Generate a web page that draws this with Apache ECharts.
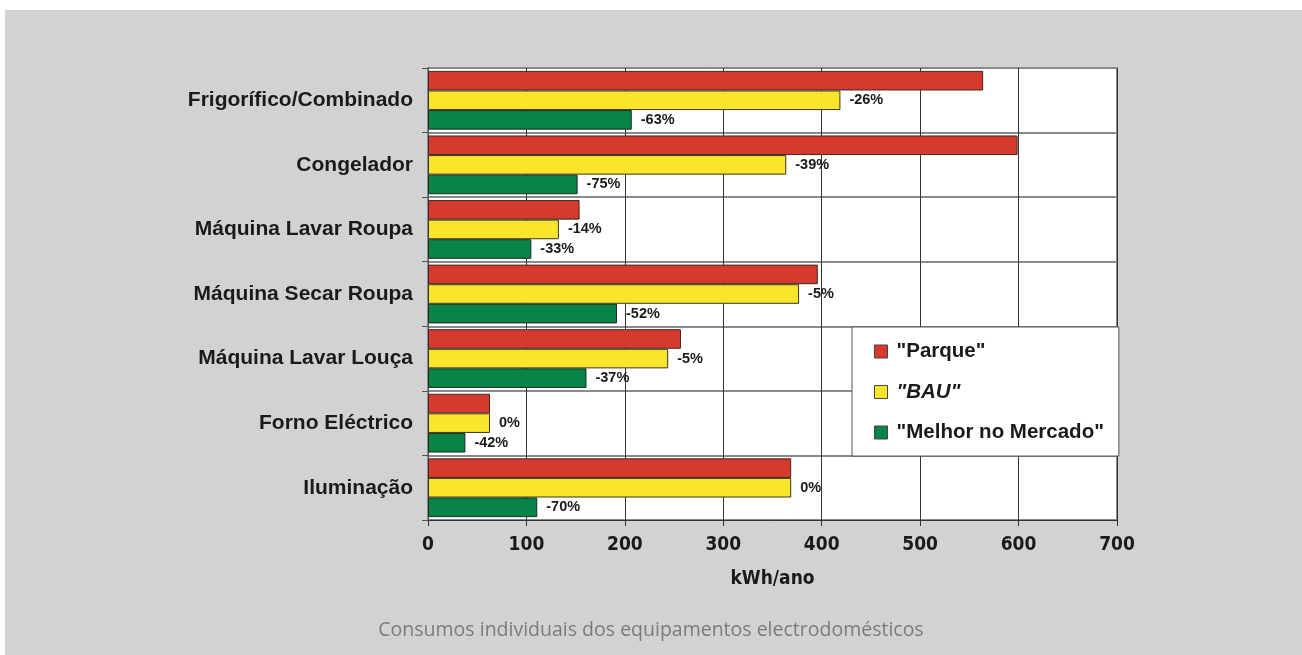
<!DOCTYPE html>
<html>
<head>
<meta charset="utf-8">
<script src="https://cdn.jsdelivr.net/npm/echarts@6/dist/echarts.min.js"></script>
<style>
  html, body { margin: 0; padding: 0; background: #fff; }
  #chart { width: 1302px; height: 655px; }
</style>
</head>
<body>
<div id="chart"></div>
<script>
var chartDom = document.getElementById('chart');
var myChart = echarts.init(chartDom);
var option;

// data
const categories = ['Frigorífico/Combinado', 'Congelador', 'Máquina Lavar Roupa',
  'Máquina Secar Roupa', 'Máquina Lavar Louça', 'Forno Eléctrico', 'Iluminação'];
const parque = [564, 599, 154, 396, 257, 63, 369];
const bau = [419, 364, 133, 377, 244, 63, 369];
const melhor = [207, 152, 105, 192, 161, 38, 111];
const bauPct = ['-26%', '-39%', '-14%', '-5%', '-5%', '0%', '0%'];
const melhorPct = ['-63%', '-75%', '-33%', '-52%', '-37%', '-42%', '-70%'];
const xTicks = [0, 100, 200, 300, 400, 500, 600, 700];

const arial = '"Liberation Sans", Arial, sans-serif';
const narrow = '"Liberation Sans Narrow", "DejaVu Sans Condensed", sans-serif';

function pctLabel(list) {
  return {
    show: true,
    position: 'right',
    distance: 9,
    color: '#1a1a1a',
    fontFamily: arial,
    fontWeight: 'bold',
    fontSize: 14.5,
    formatter: function (p) { return list[p.dataIndex]; }
  };
}

option = {
  backgroundColor: '#fff',
  animation: false,
  graphic: [
    {
      type: 'rect',
      z: -10,
      shape: { x: 5, y: 10, width: 1297, height: 645 },
      style: { fill: '#d1d2d4' }
    }
  ],
  title: {
    text: 'Consumos individuais dos equipamentos electrodomésticos',
    left: 'center',
    top: 615,
    textStyle: {
      color: '#7a7b7d',
      fontFamily: '"Open Sans", sans-serif',
      fontWeight: 'normal',
      fontSize: 19.5
    }
  },
  legend: {
    orient: 'vertical',
    left: 852,
    top: 327,
    width: 235,
    backgroundColor: '#fff',
    borderColor: '#555',
    borderWidth: 1,
    borderRadius: 0,
    padding: [14, 15, 13, 22],
    itemGap: 20,
    itemWidth: 13,
    itemHeight: 13,
    icon: 'rect',
    itemStyle: { borderColor: '#444', borderWidth: 1 },
    textStyle: {
      color: '#1a1a1a',
      fontFamily: arial,
      fontWeight: 'bold',
      fontSize: 20.5,
      padding: [0, 0, 0, 4],
      rich: {
        i: { fontFamily: arial, fontWeight: 'bold', fontStyle: 'italic', fontSize: 20.5, color: '#1a1a1a' }
      }
    },
    formatter: function (name) {
      return name === '"BAU"' ? '{i|' + name + '}' : name;
    },
    data: ['"Parque"', '"BAU"', '"Melhor no Mercado"']
  },
  grid: {
    left: 428,
    right: 185,
    top: 68,
    bottom: 135,
    show: true,
    backgroundColor: '#fff',
    borderColor: '#8a8a8a',
    borderWidth: 2
  },
  xAxis: {
    type: 'value',
    min: 0,
    max: 700,
    interval: 100,
    axisLine: { show: true, lineStyle: { color: '#333', width: 1 } },
    axisTick: { show: true, length: 6, lineStyle: { color: '#333' } },
    splitLine: { show: true, lineStyle: { color: '#333', width: 1 } },
    axisLabel: {
      margin: 16,
      color: '#1a1a1a',
      fontFamily: narrow,
      fontWeight: 'bold',
      fontSize: 19,
      formatter: function (v) { return xTicks.indexOf(v) >= 0 ? String(v) : ''; }
    },
    name: 'kWh/ano',
    nameLocation: 'middle',
    nameGap: 50,
    nameTextStyle: {
      color: '#1a1a1a',
      fontFamily: narrow,
      fontWeight: 'bold',
      fontSize: 19
    }
  },
  yAxis: {
    type: 'category',
    inverse: true,
    data: categories,
    axisLine: { show: true, lineStyle: { color: '#555', width: 1 } },
    axisTick: { show: true, length: 6, lineStyle: { color: '#555' } },
    splitLine: { show: true, lineStyle: { color: '#8a8a8a', width: 2 } },
    axisLabel: {
      margin: 15,
      color: '#1a1a1a',
      fontFamily: arial,
      fontWeight: 'bold',
      fontSize: 21
    }
  },
  series: [
    {
      name: '"Parque"',
      type: 'bar',
      barGap: 0,
      barCategoryGap: '9%',
      itemStyle: { color: '#d63a2f', borderColor: '#3a2a20', borderWidth: 1 },
      data: parque
    },
    {
      name: '"BAU"',
      type: 'bar',
      itemStyle: { color: '#f9e52b', borderColor: '#3a3520', borderWidth: 1 },
      label: pctLabel(bauPct),
      data: bau
    },
    {
      name: '"Melhor no Mercado"',
      type: 'bar',
      itemStyle: { color: '#088447', borderColor: '#1c2a20', borderWidth: 1 },
      label: pctLabel(melhorPct),
      data: melhor
    }
  ]
};

if (option && typeof option === 'object') {
  myChart.setOption(option);
}

window.onresize = function () {
  myChart.resize();
};
</script>
</body>
</html>
